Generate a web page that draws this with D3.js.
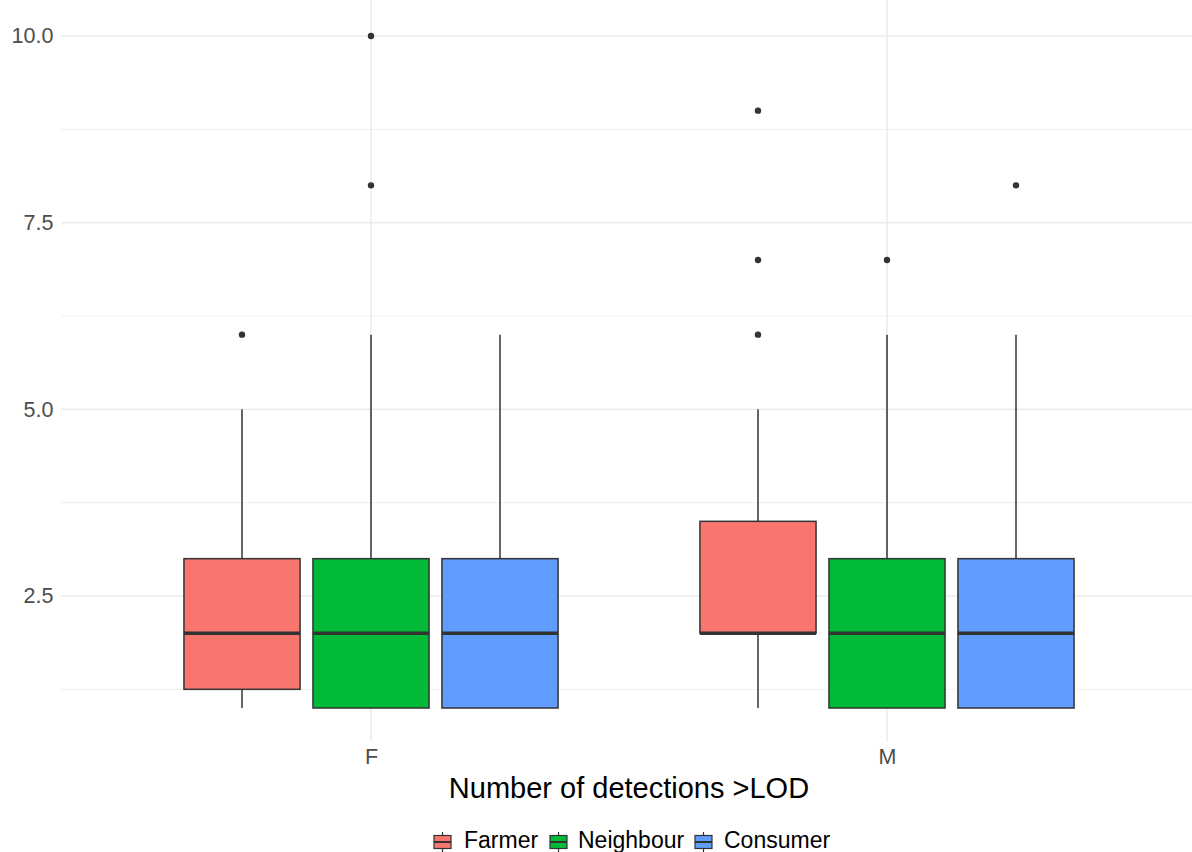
<!DOCTYPE html>
<html><head><meta charset="utf-8">
<script src="https://cdn.jsdelivr.net/npm/d3@7"></script>
<style>body{margin:0;background:#fff}svg{display:block;font-family:"Liberation Sans",Arial,sans-serif}</style>
</head><body>
<svg id="c" width="1192" height="852"></svg>
<script>
const categories = ["F", "M"];
const groups = ["Farmer", "Neighbour", "Consumer"];
const colors = ["#F8766D", "#00BA38", "#619CFF"];
// [category, group, lowerWhisker, q1, median, q3, upperWhisker]
const boxStats = [
  ["F", "Farmer",    1, 1.25, 2, 3,   5],
  ["F", "Neighbour", 1, 1,    2, 3,   6],
  ["F", "Consumer",  1, 1,    2, 3,   6],
  ["M", "Farmer",    1, 2,    2, 3.5, 5],
  ["M", "Neighbour", 1, 1,    2, 3,   6],
  ["M", "Consumer",  1, 1,    2, 3,   6]
];
const outliers = [
  ["F", "Farmer", 6], ["F", "Neighbour", 8], ["F", "Neighbour", 10],
  ["M", "Farmer", 6], ["M", "Farmer", 7], ["M", "Farmer", 9],
  ["M", "Neighbour", 7], ["M", "Consumer", 8]
];
const yTicks = [2.5, 5.0, 7.5, 10.0];
const yMinor = [1.25, 3.75, 6.25, 8.75];
const xTitle = "Number of detections >LOD";

(function(){
const svg = d3.select("#c");
const pL = 61.4, pR = 1196.6, pT = 2.4, pB = 741.6;
const x = d3.scalePoint().domain(categories).range([371, 887]);
const unit = 516;
const y = d3.scaleLinear().domain([0.55, 10.45]).range([pB, pT]);
const slot = unit * 0.75 / 3;
const bw = slot * 0.9;
const xg = d3.scaleBand().domain(groups).range([-unit*0.375, unit*0.375]);
const col = d3.scaleOrdinal().domain(groups).range(colors);

const grid = svg.append("g");
grid.selectAll(".mn").data(yMinor).join("line")
  .attr("x1", pL).attr("x2", 1192).attr("y1", d=>y(d)).attr("y2", d=>y(d))
  .attr("stroke", "#ebebeb").attr("stroke-width", 0.8);
grid.selectAll(".mj").data(yTicks).join("line")
  .attr("x1", pL).attr("x2", 1192).attr("y1", d=>y(d)).attr("y2", d=>y(d))
  .attr("stroke", "#ebebeb").attr("stroke-width", 1.5);
grid.selectAll(".vx").data(categories).join("line")
  .attr("x1", d=>x(d)).attr("x2", d=>x(d)).attr("y1", pT-3).attr("y2", pB)
  .attr("stroke", "#ebebeb").attr("stroke-width", 1.5);

const yAxis = d3.axisLeft(y).tickValues(yTicks).tickFormat(d3.format(".1f")).tickSize(0).tickPadding(8);
const ya = svg.append("g").attr("transform", `translate(${pL},0)`).call(yAxis);
ya.select(".domain").remove();
ya.selectAll("text").attr("font-size", 21.5).attr("fill", "#4d4d4d").attr("font-family", "Liberation Sans, Arial, sans-serif");

const xAxis = d3.axisBottom(x).tickSize(0).tickPadding(7);
const xa = svg.append("g").attr("transform", `translate(0,${pB})`).call(xAxis);
xa.select(".domain").remove();
xa.selectAll("text").attr("font-size", 21.5).attr("fill", "#4d4d4d").attr("font-family", "Liberation Sans, Arial, sans-serif");

svg.append("text").attr("x", 629).attr("y", 798).attr("text-anchor", "middle")
  .attr("font-size", 29).attr("fill", "#000").text(xTitle);

const cx = d => x(d[0]) + xg(d[1]) + xg.bandwidth()/2;
const boxes = svg.append("g").selectAll("g").data(boxStats).join("g");
boxes.append("line").attr("x1", cx).attr("x2", cx).attr("y1", d=>y(d[5])).attr("y2", d=>y(d[6]))
  .attr("stroke", "#333").attr("stroke-width", 1.5);
boxes.append("line").attr("x1", cx).attr("x2", cx).attr("y1", d=>y(d[2])).attr("y2", d=>y(d[3]))
  .attr("stroke", "#333").attr("stroke-width", 1.5);
boxes.append("rect").attr("x", d=>cx(d)-bw/2).attr("width", bw)
  .attr("y", d=>y(d[5])).attr("height", d=>y(d[3])-y(d[5]))
  .attr("fill", d=>col(d[1])).attr("stroke", "#333").attr("stroke-width", 1.5);
boxes.append("line").attr("x1", d=>cx(d)-bw/2).attr("x2", d=>cx(d)+bw/2).attr("y1", d=>y(d[4])).attr("y2", d=>y(d[4]))
  .attr("stroke", "#333").attr("stroke-width", 3.5);

svg.append("g").selectAll("circle").data(outliers).join("circle")
  .attr("cx", cx).attr("cy", d=>y(d[2])).attr("r", 3.2).attr("fill", "#333");

const lg = svg.append("g");
const keyX = [432, 548, 693];
const textX = [464, 578, 724];
groups.forEach((g, i) => {
  const k = lg.append("g").attr("transform", `translate(${keyX[i]},832)`);
  k.append("line").attr("x1", 10.5).attr("x2", 10.5).attr("y1", 0).attr("y2", 20).attr("stroke", "#333").attr("stroke-width", 1.2);
  k.append("rect").attr("x", 2).attr("y", 3.5).attr("width", 17).attr("height", 13)
    .attr("fill", col(g)).attr("stroke", "#333").attr("stroke-width", 1.2);
  k.append("line").attr("x1", 2).attr("x2", 19).attr("y1", 10).attr("y2", 10).attr("stroke", "#333").attr("stroke-width", 2);
  lg.append("text").attr("x", textX[i]).attr("y", 848).attr("font-size", 23).attr("fill", "#000").text(g);
});
})();
</script>
</body></html>
